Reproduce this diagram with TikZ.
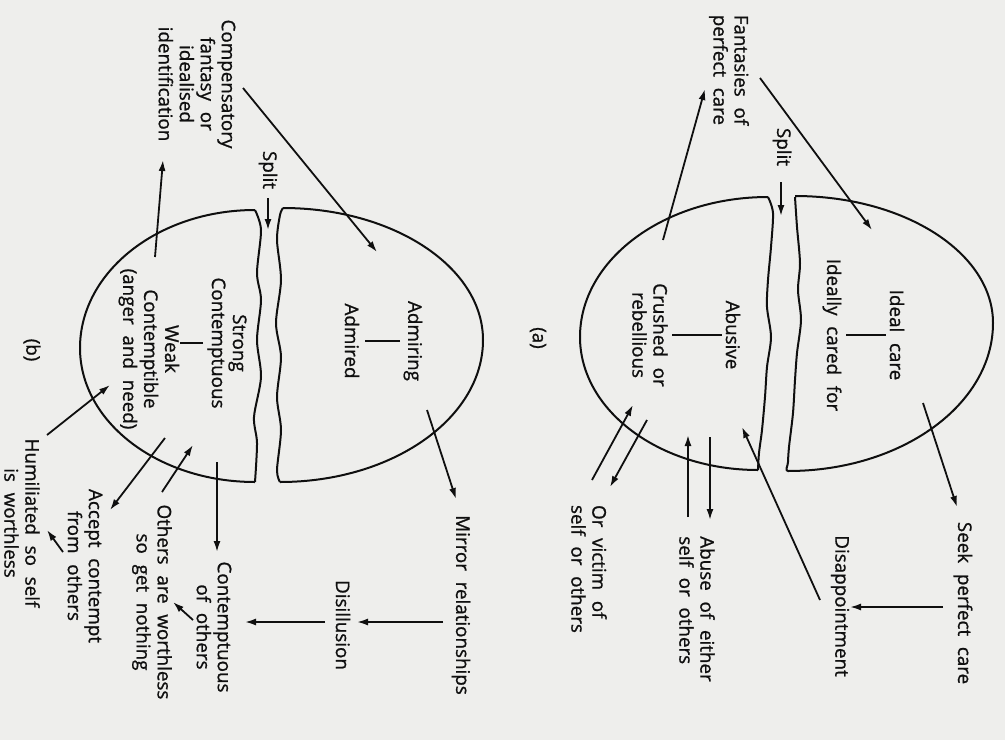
\documentclass[tikz,border=0pt]{standalone}
\usepackage{fontspec}
\setmainfont{Open Sans}[WordSpace=2.2, FakeBold=1]
\usetikzlibrary{arrows.meta}
\definecolor{paper}{RGB}{238,238,236}
\definecolor{ink}{RGB}{15,15,15}
\begin{document}
\begin{tikzpicture}[x=1pt,y=-1pt,
  lbl/.style={rotate=-90, font=\fontsize{18.8}{21}\selectfont, inner sep=0pt, align=center, text=ink},
  lbll/.style={lbl, align=left},
  arr/.style={draw=ink, line width=1.8pt, -{Latex[length=11pt,width=7pt]}},
  ln/.style={draw=ink, line width=1.8pt},
  egg/.style={draw=ink, line width=2pt, line join=round}]

\fill[paper] (0,0) rectangle (1005,740);
\useasboundingbox (0,0) rectangle (1005,740);

% ---------------- (a) ----------------
\draw[egg] (768,197) arc[start angle=-90, end angle=-180, x radius=188, y radius=140]
  arc[start angle=-180, end angle=-270, x radius=178, y radius=133]
  plot[smooth] coordinates {(758,470) (759,453) (762,430) (765,397) (767,367) (771,337) (767,307) (768,280) (771,247) (773,213) (768,197)};
\draw[egg] (795,196) arc[start angle=-90, end angle=0, x radius=198, y radius=127]
  arc[start angle=0, end angle=90, x radius=205, y radius=148]
  to[out=180,in=-90] (788,462)
  plot[smooth] coordinates {(788,462) (789,447) (793,413) (795,380) (797,353) (801,320) (798,290) (800,263) (797,227) (795,197)};

\node[lbll] (fant) at (729,70) {Fantasies of\\perfect care};
\node[lbl] (splitA) at (782,147) {Split};
\node[lbl] (ideal) at (897,335) {Ideal care};
\node[lbl] (ideally) at (832,335) {Ideally cared for};
\node[lbl] (abusive) at (733,335) {Abusive};
\node[lbl] (crushed) at (650,335) {Crushed or\\rebellious};
\node[lbl] (labA) at (538,338) {(a)};
\node[lbl] (seek) at (963,603) {Seek perfect care};
\node[lbl] (disap) at (840,606) {Disappointment};
\node[lbll] (abuse) at (697,609) {Abuse of either\\self or others};
\node[lbll] (victim) at (589,569) {Or victim of\\self or others};

\draw[ln, shorten <=4pt, shorten >=4pt] (ideal.south) -- (ideally.north);
\draw[ln, shorten <=4pt, shorten >=4pt] (abusive.south) -- (crushed.north);

\coordinate (sAs) at (781,182); \coordinate (sAe) at (781,216);
\coordinate (fantOut) at (760,78); \coordinate (idealIn) at (872,230);
\coordinate (crushOut) at (663,240); \coordinate (fantIn) at (705,89);
\coordinate (idealOut) at (923,403); \coordinate (seekIn) at (957,507);
\coordinate (seekOut) at (943,607); \coordinate (disapIn) at (850,607);
\coordinate (disapOut) at (820,600); \coordinate (abusiveIn) at (742,427);
\coordinate (abusiveOut) at (710,437); \coordinate (abuseIn) at (710,520);
\coordinate (abuseOut) at (688,517); \coordinate (abusiveIn2) at (688,435);
\coordinate (victimOut) at (592,480); \coordinate (crushIn) at (633,405);
\coordinate (crushOut2) at (647,420); \coordinate (victimIn) at (610,487);

\draw[arr] (sAs) -- (sAe);
\draw[arr] (fantOut) -- (idealIn);
\draw[arr] (crushOut) -- (fantIn);
\draw[arr] (idealOut) -- (seekIn);
\draw[arr] (seekOut) -- (disapIn);
\draw[arr] (disapOut) -- (abusiveIn);
\draw[arr] (abusiveOut) -- (abuseIn);
\draw[arr] (abuseOut) -- (abusiveIn2);
\draw[arr] (victimOut) -- (crushIn);
\draw[arr] (crushOut2) -- (victimIn);

% ---------------- (b) ----------------
\draw[egg] (255,210) arc[start angle=-90, end angle=-180, x radius=175, y radius=138]
  arc[start angle=-180, end angle=-270, x radius=175, y radius=134]
  plot[smooth] coordinates {(255,482) (257,443) (254,417) (261,377) (257,340) (261,300) (257,273) (261,230) (255,210)};
\draw[egg] (283,208) arc[start angle=-90, end angle=0, x radius=200, y radius=132]
  arc[start angle=0, end angle=90, x radius=203, y radius=142]
  plot[smooth] coordinates {(280,482) (277,470) (281,430) (277,397) (281,357) (276,323) (281,280) (277,240) (280,215) (283,208)};

\node[lbl] (comp) at (197,84) {Compensatory\\fantasy or\\idealised\\identification};
\node[lbl] (splitB) at (268,170) {Split};
\node[lbl] (admiring) at (413,341) {Admiring};
\node[lbl] (admired) at (352,341) {Admired};
\node[lbl] (strong) at (227,343) {Strong\\Contemptuous};
\node[lbl] (weak) at (149,349) {Weak\\Contemptible\\(anger and need)};
\node[lbl] (labB) at (32,350) {(b)};
\node[lbl] (mirror) at (461,605) {Mirror relationships};
\node[lbl] (disill) at (343,625) {Disillusion};
\node[lbl] (contof) at (214,627) {Contemptuous\\of others};
\node[lbl] (others) at (152,602) {Others are worthless\\so get nothing};
\node[lbl] (accept) at (85,566) {Accept contempt\\from others};
\node[lbl] (humil) at (22,523) {Humiliated so self\\is worthless};

\coordinate (barBa) at (400,341); \coordinate (barBb) at (365,341);
\draw[ln] (barBa) -- (barBb);
\coordinate (barBc) at (203,343); \coordinate (barBd) at (180,343);
\draw[ln] (barBc) -- (barBd);

\coordinate (sBs) at (268,198); \coordinate (sBe) at (268,230);
\coordinate (compOut) at (243,88); \coordinate (admIn) at (377,252);
\coordinate (weakOut) at (155,257); \coordinate (compIn) at (163,160);
\coordinate (admOut) at (427,410); \coordinate (mirrorIn) at (456,499);
\coordinate (mirrorOut) at (443,622); \coordinate (disillIn) at (357,622);
\coordinate (disillOut) at (325,622); \coordinate (contofIn) at (245,622);
\coordinate (strongOut) at (217,462); \coordinate (contofIn2) at (217,552);
\coordinate (contofOut) at (193,620); \coordinate (othersIn) at (173,602);
\coordinate (othersOut) at (162,492); \coordinate (strongIn) at (193,445);
\coordinate (weakOut2) at (165,438); \coordinate (acceptIn) at (110,510);
\coordinate (acceptOut) at (63,552); \coordinate (humilIn) at (47,530);
\coordinate (humilOut) at (47,435); \coordinate (weakIn) at (110,385);

\draw[arr] (sBs) -- (sBe);
\draw[arr] (compOut) -- (admIn);
\draw[arr] (weakOut) -- (compIn);
\draw[arr] (admOut) -- (mirrorIn);
\draw[arr] (mirrorOut) -- (disillIn);
\draw[arr] (disillOut) -- (contofIn);
\draw[arr] (strongOut) -- (contofIn2);
\draw[arr] (contofOut) -- (othersIn);
\draw[arr] (othersOut) -- (strongIn);
\draw[arr] (weakOut2) -- (acceptIn);
\draw[arr] (acceptOut) -- (humilIn);
\draw[arr] (humilOut) -- (weakIn);
\end{tikzpicture}
\end{document}
